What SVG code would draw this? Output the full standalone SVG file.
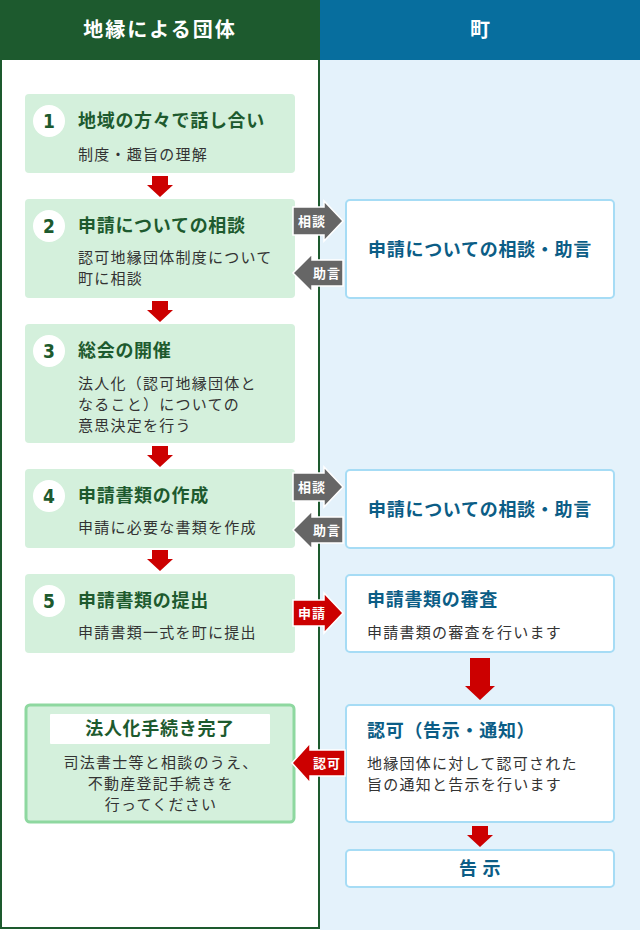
<svg xmlns="http://www.w3.org/2000/svg" width="640" height="930" viewBox="0 0 640 930">
<style>
text{font-family:"Noto Sans CJK JP","Noto Sans",sans-serif}
.hd{font-size:20px;font-weight:bold;fill:#fff;letter-spacing:2px}
.step{fill:#d4f0dc}
.ttl{font-size:18px;font-weight:bold;fill:#1d5a2e;letter-spacing:0.7px}
.sub{font-size:15px;fill:#333;letter-spacing:1.25px}
.num{font-family:"DejaVu Sans Condensed","Liberation Sans Narrow",sans-serif;font-size:19px;font-weight:bold;fill:#1d5a2e}
.rbox{fill:#fff;stroke:#a6dcf5;stroke-width:2}
.btl{font-size:18px;font-weight:bold;fill:#0b5d86;letter-spacing:0.7px}
.red{fill:#cc0000}
.side-g{fill:#666;stroke:#fff;stroke-width:1.5}
.side-r{fill:#cc0000;stroke:#fff;stroke-width:1.5}
.lbl{font-size:13px;font-weight:bold;fill:#fff;letter-spacing:1px}
</style>
<rect x="320" y="60" width="320" height="870" fill="#e4f2fb"/>
<rect x="1" y="59" width="318" height="869" fill="#fff" stroke="#1d5a2e" stroke-width="2"/>
<g id="header-left"><rect x="0" y="0" width="320" height="60" fill="#1d5a2e"/><text class="hd" x="160" y="37" text-anchor="middle">地縁による団体</text></g>
<g id="header-right"><rect x="320" y="0" width="320" height="60" fill="#076e9e"/><text class="hd" x="481" y="37" text-anchor="middle">町</text></g>

<g id="step1">
<rect class="step" x="25" y="94" width="270" height="79" rx="4"/>
<circle cx="49" cy="121" r="16" fill="#fff"/><text class="num" x="49" y="128" text-anchor="middle">1</text>
<text class="ttl" x="78" y="127">地域の方々で話し合い</text>
<text class="sub" x="78" y="160">制度・趣旨の理解</text>
</g>
<g id="step2">
<rect class="step" x="25" y="199" width="270" height="99" rx="4"/>
<circle cx="49" cy="226" r="16" fill="#fff"/><text class="num" x="49" y="233" text-anchor="middle">2</text>
<text class="ttl" x="78" y="232">申請についての相談</text>
<text class="sub" x="78" y="263">認可地縁団体制度について</text>
<text class="sub" x="78" y="284">町に相談</text>
</g>
<g id="step3">
<rect class="step" x="25" y="324" width="270" height="119" rx="4"/>
<circle cx="49" cy="351" r="16" fill="#fff"/><text class="num" x="49" y="358" text-anchor="middle">3</text>
<text class="ttl" x="78" y="357">総会の開催</text>
<text class="sub" x="78" y="389">法人化（認可地縁団体と</text>
<text class="sub" x="78" y="410">なること）についての</text>
<text class="sub" x="78" y="431">意思決定を行う</text>
</g>
<g id="step4">
<rect class="step" x="25" y="469" width="270" height="79" rx="4"/>
<circle cx="49" cy="496" r="16" fill="#fff"/><text class="num" x="49" y="503" text-anchor="middle">4</text>
<text class="ttl" x="78" y="502">申請書類の作成</text>
<text class="sub" x="78" y="533">申請に必要な書類を作成</text>
</g>
<g id="step5">
<rect class="step" x="25" y="574" width="270" height="79" rx="4"/>
<circle cx="49" cy="601" r="16" fill="#fff"/><text class="num" x="49" y="608" text-anchor="middle">5</text>
<text class="ttl" x="78" y="607">申請書類の提出</text>
<text class="sub" x="78" y="638">申請書類一式を町に提出</text>
</g>
<g id="complete">
<rect x="26" y="705" width="268" height="117" rx="4" fill="#d4f0dc" stroke="#8ed8a0" stroke-width="3"/>
<rect x="50" y="714" width="220" height="30" rx="1" fill="#fff"/>
<text class="ttl" x="160" y="735" text-anchor="middle">法人化手続き完了</text>
<text class="sub" x="161" y="768" text-anchor="middle">司法書士等と相談のうえ、</text>
<text class="sub" x="161" y="789" text-anchor="middle">不動産登記手続きを</text>
<text class="sub" x="161" y="810" text-anchor="middle">行ってください</text>
</g>

<g id="town-consult1">
<rect class="rbox" x="346" y="200" width="268" height="98" rx="4"/>
<text class="btl" x="480" y="256" text-anchor="middle">申請についての相談・助言</text>
</g>
<g id="town-consult2">
<rect class="rbox" x="346" y="470" width="268" height="78" rx="4"/>
<text class="btl" x="480" y="516" text-anchor="middle">申請についての相談・助言</text>
</g>
<g id="town-review">
<rect class="rbox" x="346" y="575" width="268" height="77" rx="4"/>
<text class="btl" x="367" y="606">申請書類の審査</text>
<text class="sub" x="367" y="638">申請書類の審査を行います</text>
</g>
<g id="town-approve">
<rect class="rbox" x="346" y="705" width="268" height="117" rx="4"/>
<text class="btl" x="367" y="737">認可（告示・通知）</text>
<text class="sub" x="367" y="769">地縁団体に対して認可された</text>
<text class="sub" x="367" y="790">旨の通知と告示を行います</text>
</g>
<g id="town-notice">
<rect class="rbox" x="346" y="850" width="268" height="37" rx="4"/>
<text class="btl" x="480" y="875" text-anchor="middle">告 示</text>
</g>

<g id="connectors">
<polygon class="red" points="152,176 168,176 168,185 173,185 160,197 147,185 152,185"/>
<polygon class="red" points="152,301 168,301 168,310 173,310 160,322 147,310 152,310"/>
<polygon class="red" points="152,446 168,446 168,455 173,455 160,467 147,455 152,455"/>
<polygon class="red" points="152,550 168,550 168,559 173,559 160,571 147,559 152,559"/>
<polygon class="red" points="470,658 490,658 490,686 495,686 480,700 465,686 470,686"/>
<polygon class="red" points="472,826 488,826 488,835 493,835 480,847 467,835 472,835"/>

<g><polygon class="side-g" points="293,207 324,207 324,201 343,221 324,241 324,235 293,235"/><text class="lbl" x="312" y="226" text-anchor="middle">相談</text></g>
<g><polygon class="side-g" points="343,260 312,260 312,254 293,273 312,292 312,286 343,286"/><text class="lbl" x="327" y="278" text-anchor="middle">助言</text></g>
<g><polygon class="side-g" points="293,473 324,473 324,467 343,487 324,507 324,501 293,501"/><text class="lbl" x="312" y="492" text-anchor="middle">相談</text></g>
<g><polygon class="side-g" points="343,517 312,517 312,511 293,530 312,549 312,543 343,543"/><text class="lbl" x="327" y="535" text-anchor="middle">助言</text></g>
<g><polygon class="side-r" points="293,600 324,600 324,593 343,613 324,633 324,626 293,626"/><text class="lbl" x="312" y="618" text-anchor="middle">申請</text></g>
<g><polygon class="side-r" points="345,750 310,750 310,743 292,763 310,783 310,776 345,776"/><text class="lbl" x="327" y="768" text-anchor="middle">認可</text></g>
</g>
</svg>
